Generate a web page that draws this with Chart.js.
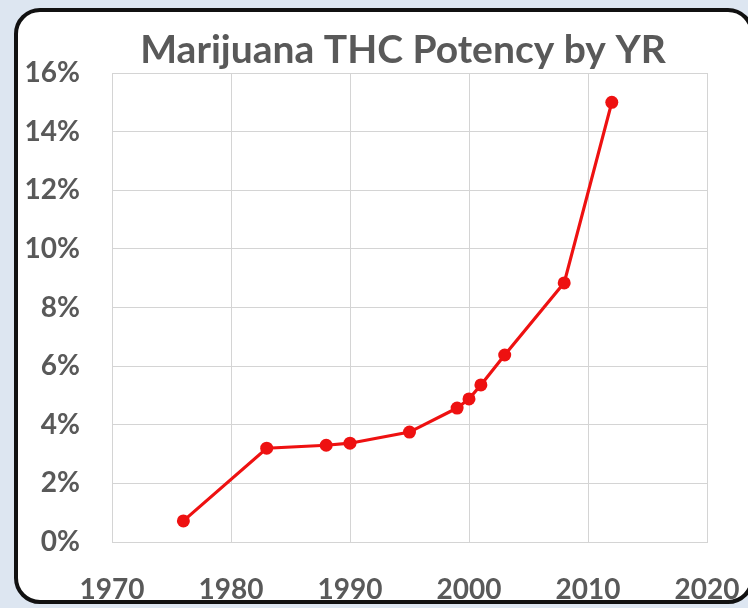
<!DOCTYPE html>
<html>
<head>
<meta charset="utf-8">
<script src="https://cdn.jsdelivr.net/npm/chart.js@4.4.0/dist/chart.umd.min.js"></script>
<style>
  html, body { margin: 0; padding: 0; }
  body { width: 748px; height: 608px; background: #dde6f1; position: relative; overflow: hidden; }
  #frame {
    position: absolute; left: 14px; top: 8px; width: 732px; height: 588px;
    border: 4px solid #111; border-radius: 26px; background: #fff;
  }
  #wrap { position: absolute; left: 0; top: 0; width: 748px; height: 608px; }
</style>
</head>
<body>
<div id="frame"></div>
<div id="wrap"><canvas id="chart" width="748" height="608"></canvas></div>
<script>
const years = [1976, 1983, 1988, 1990, 1995, 1999, 2000, 2001, 2003, 2008, 2012];
const potency = [0.0072, 0.032, 0.033, 0.0337, 0.0375, 0.0457, 0.0488, 0.0536, 0.0638, 0.0884, 0.150];
const xTicks = [1970, 1980, 1990, 2000, 2010, 2020];
const yTicks = [0, 0.02, 0.04, 0.06, 0.08, 0.10, 0.12, 0.14, 0.16];
const title = 'Marijuana THC Potency by YR';

const points = years.map((y, i) => ({ x: y, y: potency[i] }));
const gray = '#595959';
const red = '#ee1111';
const gridGray = '#d4d4d4';

// title drawn by hand so it can sit off-centre like the original
const titlePlugin = {
  id: 'offTitle',
  afterDraw(chart) {
    const ctx = chart.ctx;
    ctx.save();
    ctx.font = 'bold 39px Lato';
    ctx.fillStyle = gray;
    ctx.textAlign = 'center';
    ctx.textBaseline = 'alphabetic';
    ctx.fillText(title, 403, 63);
    ctx.restore();
  }
};

new Chart(document.getElementById('chart'), {
  type: 'line',
  data: {
    datasets: [{
      data: points,
      borderColor: red,
      backgroundColor: red,
      borderWidth: 3.2,
      pointRadius: 6.5,
      pointBackgroundColor: red,
      pointBorderWidth: 0,
      tension: 0
    }]
  },
  options: {
    responsive: false,
    animation: false,
    devicePixelRatio: 1,
    layout: { padding: { left: 15, right: 41, top: 73, bottom: 0 } },
    plugins: {
      legend: { display: false },
      tooltip: { enabled: false },
      title: { display: false }
    },
    scales: {
      x: {
        type: 'linear',
        min: 1970,
        max: 2020,
        afterBuildTicks: s => { s.ticks = xTicks.map(v => ({ value: v })); },
        afterFit: s => { s.height = 66; s.paddingLeft = 0; s.paddingRight = 0; },
        grid: { color: gridGray, lineWidth: 1, drawTicks: false },
        border: { display: true, color: gridGray },
        ticks: {
          color: gray,
          padding: 31,
          maxRotation: 0,
          font: { family: 'Lato', size: 28, weight: 'bold' },
          callback: v => String(v)
        }
      },
      y: {
        min: 0,
        max: 0.16,
        afterBuildTicks: s => { s.ticks = yTicks.map(v => ({ value: v })); },
        afterFit: s => { s.width = 97; s.paddingTop = 0; s.paddingBottom = 0; },
        grid: { color: gridGray, lineWidth: 1, drawTicks: false },
        border: { display: true, color: gridGray },
        ticks: {
          color: gray,
          padding: 32,
          font: { family: 'Lato', size: 28, weight: 'bold' },
          callback: v => Math.round(v * 100) + '%'
        }
      }
    }
  },
  plugins: [titlePlugin]
});
</script>
</body>
</html>
